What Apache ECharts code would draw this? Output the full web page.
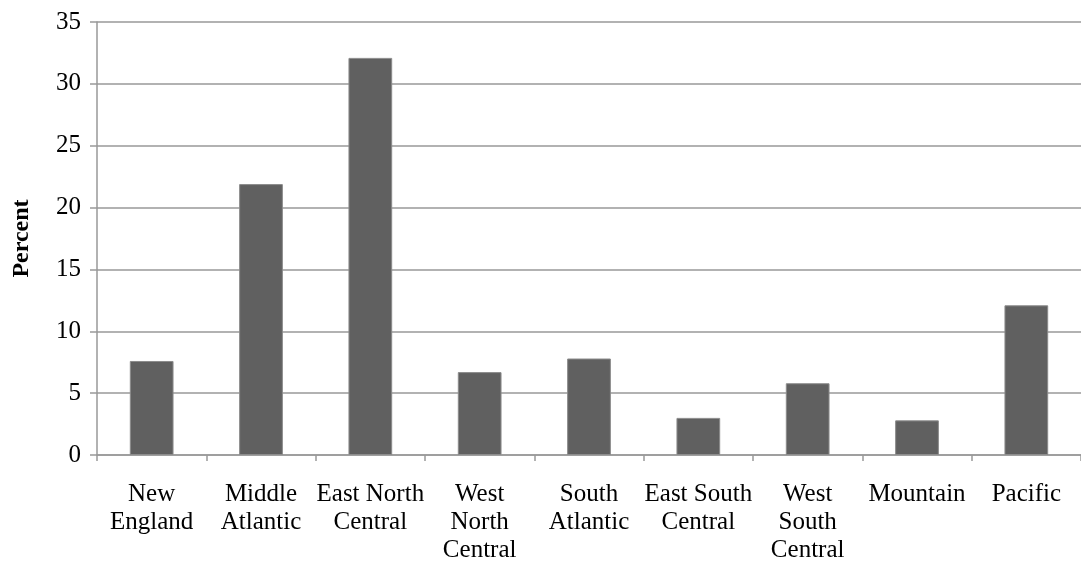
<!DOCTYPE html>
<html><head><meta charset="utf-8">
<script src="https://cdn.jsdelivr.net/npm/echarts@6/dist/echarts.min.js"></script>
<style>html,body{margin:0;padding:0;background:#fff}#c{width:1081px;height:564px}</style>
</head><body><div id="c"></div>
<script>
const categories = ["New\nEngland","Middle\nAtlantic","East North\nCentral","West\nNorth\nCentral","South\nAtlantic","East South\nCentral","West\nSouth\nCentral","Mountain","Pacific"];
const percentValues = [7.6, 21.9, 32.1, 6.7, 7.8, 3.0, 5.8, 2.8, 12.1];
const yTicks = [0,5,10,15,20,25,30,35];
const font = "'Liberation Serif','Times New Roman',serif";
const chart = echarts.init(document.getElementById('c'));
chart.setOption({
  animation:false,
  grid:{left:97,right:-2,top:22,bottom:103,containLabel:false},
  xAxis:{type:'category',data:categories,
    axisLine:{lineStyle:{color:'#999',width:1.5}},
    axisTick:{show:true,length:6,lineStyle:{color:'#999',width:1.5}},
    axisLabel:{color:'#000',fontFamily:font,fontSize:25,lineHeight:28,margin:25,interval:0}},
  yAxis:{type:'value',min:0,max:35,interval:5,name:'Percent',nameLocation:'middle',nameGap:63,
    nameTextStyle:{color:'#000',fontFamily:font,fontSize:24,fontWeight:'bold'},
    axisLine:{show:true,lineStyle:{color:'#999',width:1.5}},
    axisTick:{show:true,length:7,lineStyle:{color:'#999',width:1.5}},
    axisLabel:{color:'#000',fontFamily:font,fontSize:25,margin:16,
      formatter:v=>yTicks.includes(v)?String(v):''},
    splitLine:{lineStyle:{color:'#999',width:1.5}}},
  series:[{type:'bar',data:percentValues,barWidth:'40%',
    itemStyle:{color:'#606060',borderColor:'#8c8c8c',borderWidth:1}}]
});
</script></body></html>
